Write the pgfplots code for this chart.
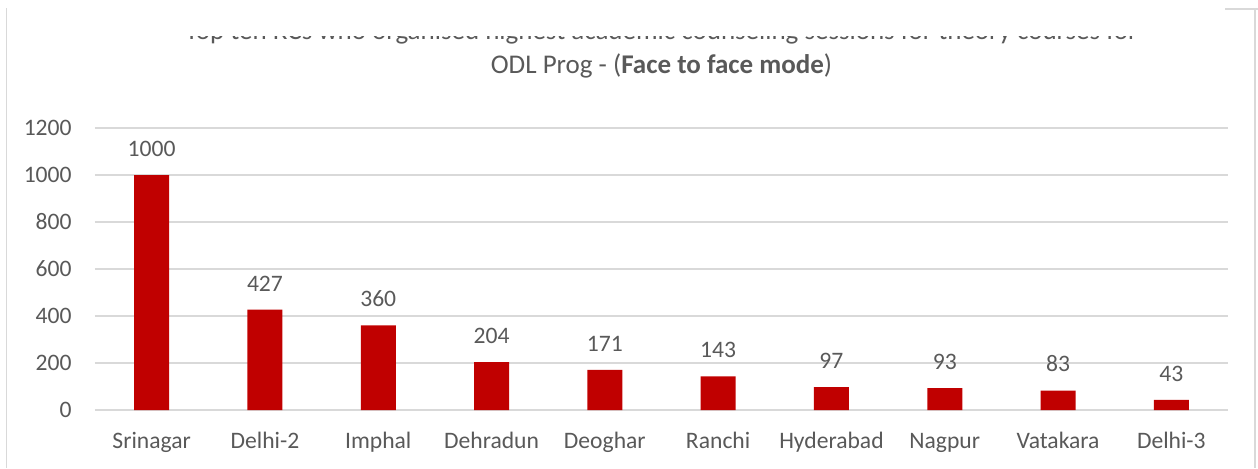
\documentclass[border=0pt]{standalone}
\usepackage{fontspec}
\setmainfont{Carlito}
\usepackage{pgfplots}
\pgfplotsset{compat=1.18}
\definecolor{barred}{HTML}{C00000}
\definecolor{txtgray}{HTML}{595959}
\definecolor{gridgray}{HTML}{D9D9D9}
\begin{document}
\begin{tikzpicture}[font=\fontsize{11.8}{14}\selectfont]
\begin{axis}[
  at={(0,0)}, anchor=south west, scale only axis,
  width=566.5pt, height=141pt,
  xmin=-0.5, xmax=9.5, ymin=0, ymax=1200,
  ytick={0,200,400,600,800,1000,1200},
  xtick=data,
  xticklabels={Srinagar,Delhi-2,Imphal,Dehradun,Deoghar,Ranchi,Hyderabad,Nagpur,Vatakara,Delhi-3},
  axis line style={draw=none},
  major tick length=0pt,
  ymajorgrids, grid style={gridgray, line width=0.75pt},
  ybar, bar width=17.5pt,
  nodes near coords,
  nodes near coords style={text=txtgray, inner sep=0pt, yshift=9pt, font=\fontsize{11.8}{14}\selectfont},
  ticklabel style={text=txtgray, font=\fontsize{11.8}{14}\selectfont},
  yticklabel style={anchor=east, inner sep=0pt, xshift=-11.5pt},
  xticklabel style={anchor=base, inner sep=0pt, yshift=-19pt},
  /pgf/number format/assume math mode=true,
  /pgf/number format/1000 sep={},
  clip=false,
]
\addplot[fill=barred, draw=none] coordinates {(0,1000) (1,427) (2,360) (3,204) (4,171) (5,143) (6,97) (7,93) (8,83) (9,43)};
\end{axis}
\begin{scope}
\clip (-47.5pt,-29pt) rectangle (581.5pt,186.8pt);
\node[anchor=base, text=txtgray, inner sep=0pt, font=\fontsize{13.5}{16}\selectfont] at (283.25pt,185.3pt) {Top ten RCs who organised highest academic counseling sessions for theory courses for};
\end{scope}
\node[anchor=base, text=txtgray, inner sep=0pt, font=\fontsize{13.5}{16}\selectfont] at (283.25pt,168.5pt) {ODL Prog - (\textbf{Face to face mode})};
\draw[gridgray, line width=0.75pt] (-44.25pt,201pt) -- (-44.25pt,-29pt);
\draw[gridgray, line width=0.9pt] (580pt,200.5pt) -- (580pt,-29pt);
\draw[gridgray, line width=0.9pt] (565pt,200.5pt) -- (581.5pt,200.5pt);
\pgfresetboundingbox
\path[use as bounding box] (-47.5pt,-29pt) rectangle (581.5pt,205pt);
\end{tikzpicture}
\end{document}
